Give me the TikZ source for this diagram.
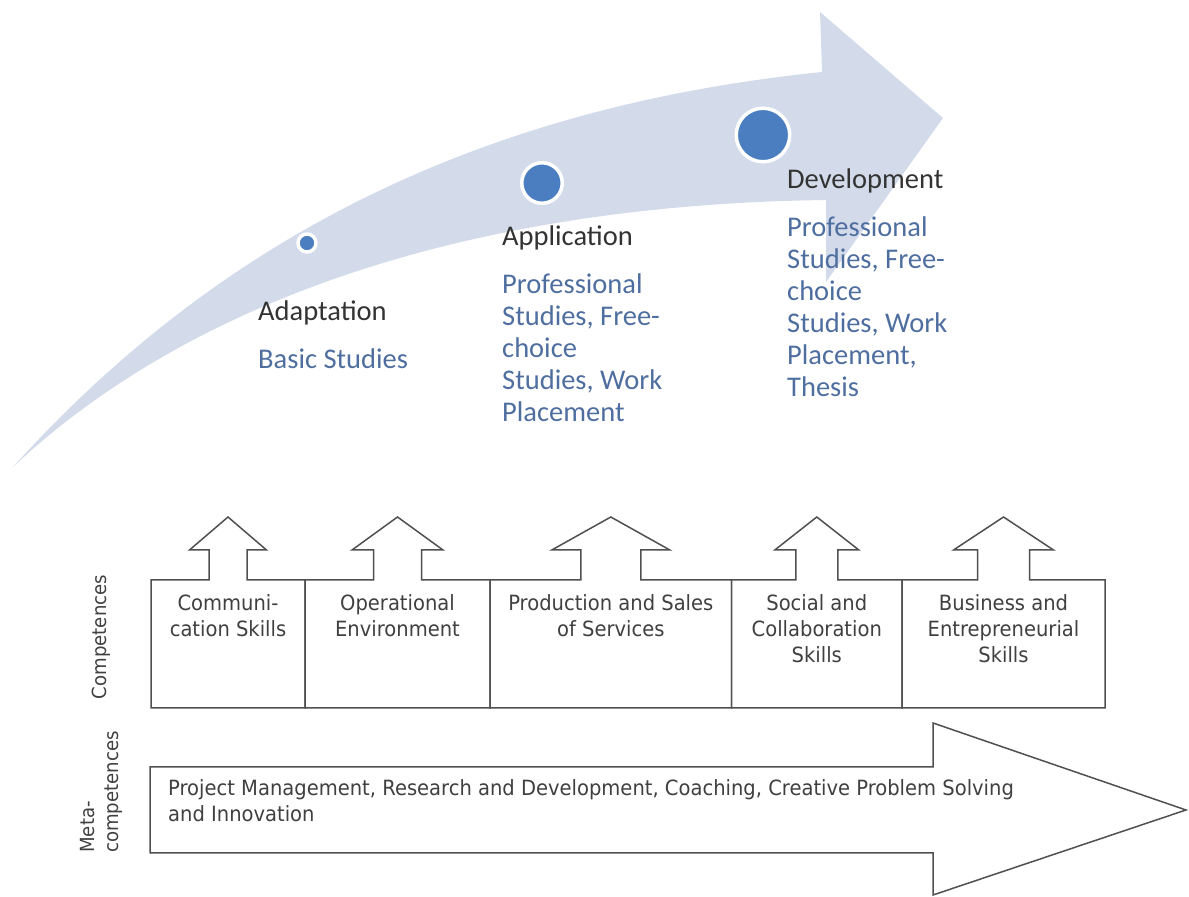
\documentclass[tikz,border=0pt]{standalone}
\usepackage{fontspec}
\setmainfont{Carlito}
\newfontfamily\boxfont[FakeStretch=0.93]{DejaVu Sans}
\usetikzlibrary{positioning,calc}

\definecolor{arrowblue}{RGB}{211,219,234}
\definecolor{dotblue}{RGB}{74,126,192}
\definecolor{titlegray}{RGB}{51,51,51}
\definecolor{studyblue}{RGB}{79,110,160}
\definecolor{linegray}{RGB}{80,80,80}
\definecolor{textgray}{RGB}{64,64,64}

\begin{document}
\begin{tikzpicture}[x=1pt,y=1pt,node distance=0pt,
  dot/.style={circle,fill=dotblue,draw=white,line width=3.5pt,inner sep=0pt},
  phase title/.style={anchor=base west,inner sep=0pt,text=titlegray,font=\fontsize{28.5}{32}\selectfont},
  phase body/.style={inner sep=0pt,align=left,text=studyblue,font=\fontsize{28.5}{32}\selectfont},
  comp box/.style={minimum width=#1,minimum height=128,inner sep=0pt,outer sep=0pt},
  comp line/.style={draw=linegray,line width=1.5pt,fill=white},
  comp text/.style={inner sep=0pt,align=center,text=textgray,font=\boxfont\fontsize{21}{26}\selectfont},
  side label/.style={rotate=90,inner sep=0pt,align=left,text=textgray,font=\boxfont\fontsize{19.5}{24}\selectfont}]

  \useasboundingbox (0,0) rectangle (1189,897);

  % curved arrow
  \fill[arrowblue] (13,430) .. controls (200,637) and (450,787) .. (822,825)
    -- (820,885) -- (943,779) -- (826,615) -- (826,697)
    .. controls (450,692) and (180,587) .. (13,430) -- cycle;

  \node[dot,minimum size=18]   (adapt) at (307,654) {};
  \node[dot,minimum size=40.5] (appl)  at (542,714) {};
  \node[dot,minimum size=53.5] (devel) at (763,762) {};

  \node[phase title] (adapt title) at (258,576) {Adaptation};
  \node[phase title] (appl title)  at (502,651) {Application};
  \node[phase title] (devel title) at (787,708) {Development};

  \node[phase body,below=28pt of adapt title.base west,anchor=north west] (adapt body) {Basic Studies};
  \node[phase body,below=28pt of appl title.base west,anchor=north west] (appl body)
    {Professional\\Studies, Free-\\choice\\Studies, Work\\Placement};
  \node[phase body,below=28pt of devel title.base west,anchor=north west] (devel body)
    {Professional\\Studies, Free-\\choice\\Studies, Work\\Placement,\\Thesis};

  % competences
  \node[comp box=154]   (comm) at (228,253) {};
  \node[comp box=185]   (oper) [right=of comm] {};
  \node[comp box=241.6] (prod) [right=of oper] {};
  \node[comp box=170.4] (soc)  [right=of prod] {};
  \node[comp box=203]   (bus)  [right=of soc] {};

  \foreach \n/\s/\h in {comm/19/38.5,oper/24/45.5,prod/30/59,soc/21/42,bus/26/50}
    \draw[comp line] (\n.south west) -- (\n.north west) -- ($(\n.north)+(-\s,0)$)
      -- ($(\n.north)+(-\s,30)$) -- ($(\n.north)+(-\h,30)$) -- ($(\n.north)+(0,63)$)
      -- ($(\n.north)+(\h,30)$) -- ($(\n.north)+(\s,30)$) -- ($(\n.north)+(\s,0)$)
      -- (\n.north east) -- (\n.south east) -- cycle;

  \node[comp text,below=14pt of comm.north] (comm text) {Communi-\\cation Skills};
  \node[comp text,below=14pt of oper.north] (oper text) {Operational\\Environment};
  \node[comp text,below=14pt of prod.north] (prod text) {Production and Sales\\of Services};
  \node[comp text,below=14pt of soc.north]  (soc text)  {Social and\\Collaboration\\Skills};
  \node[comp text,below=14pt of bus.north]  (bus text)  {Business and\\Entrepreneurial\\Skills};

  \node[side label] (comp label) at (101,260) {Competences};

  % meta-competences
  \draw[comp line] (150,130) -- (933,130) -- (933,174) -- (1186,87)
    -- (933,2) -- (933,44) -- (150,44) -- cycle;
  \node[comp text,align=left,anchor=north west] (meta text) at (168,118)
    {Project Management, Research and Development, Coaching, Creative Problem Solving\\and Innovation};
  \node[side label,anchor=west] (meta label) at (101,44) {Meta-\\competences};
\end{tikzpicture}
\end{document}
